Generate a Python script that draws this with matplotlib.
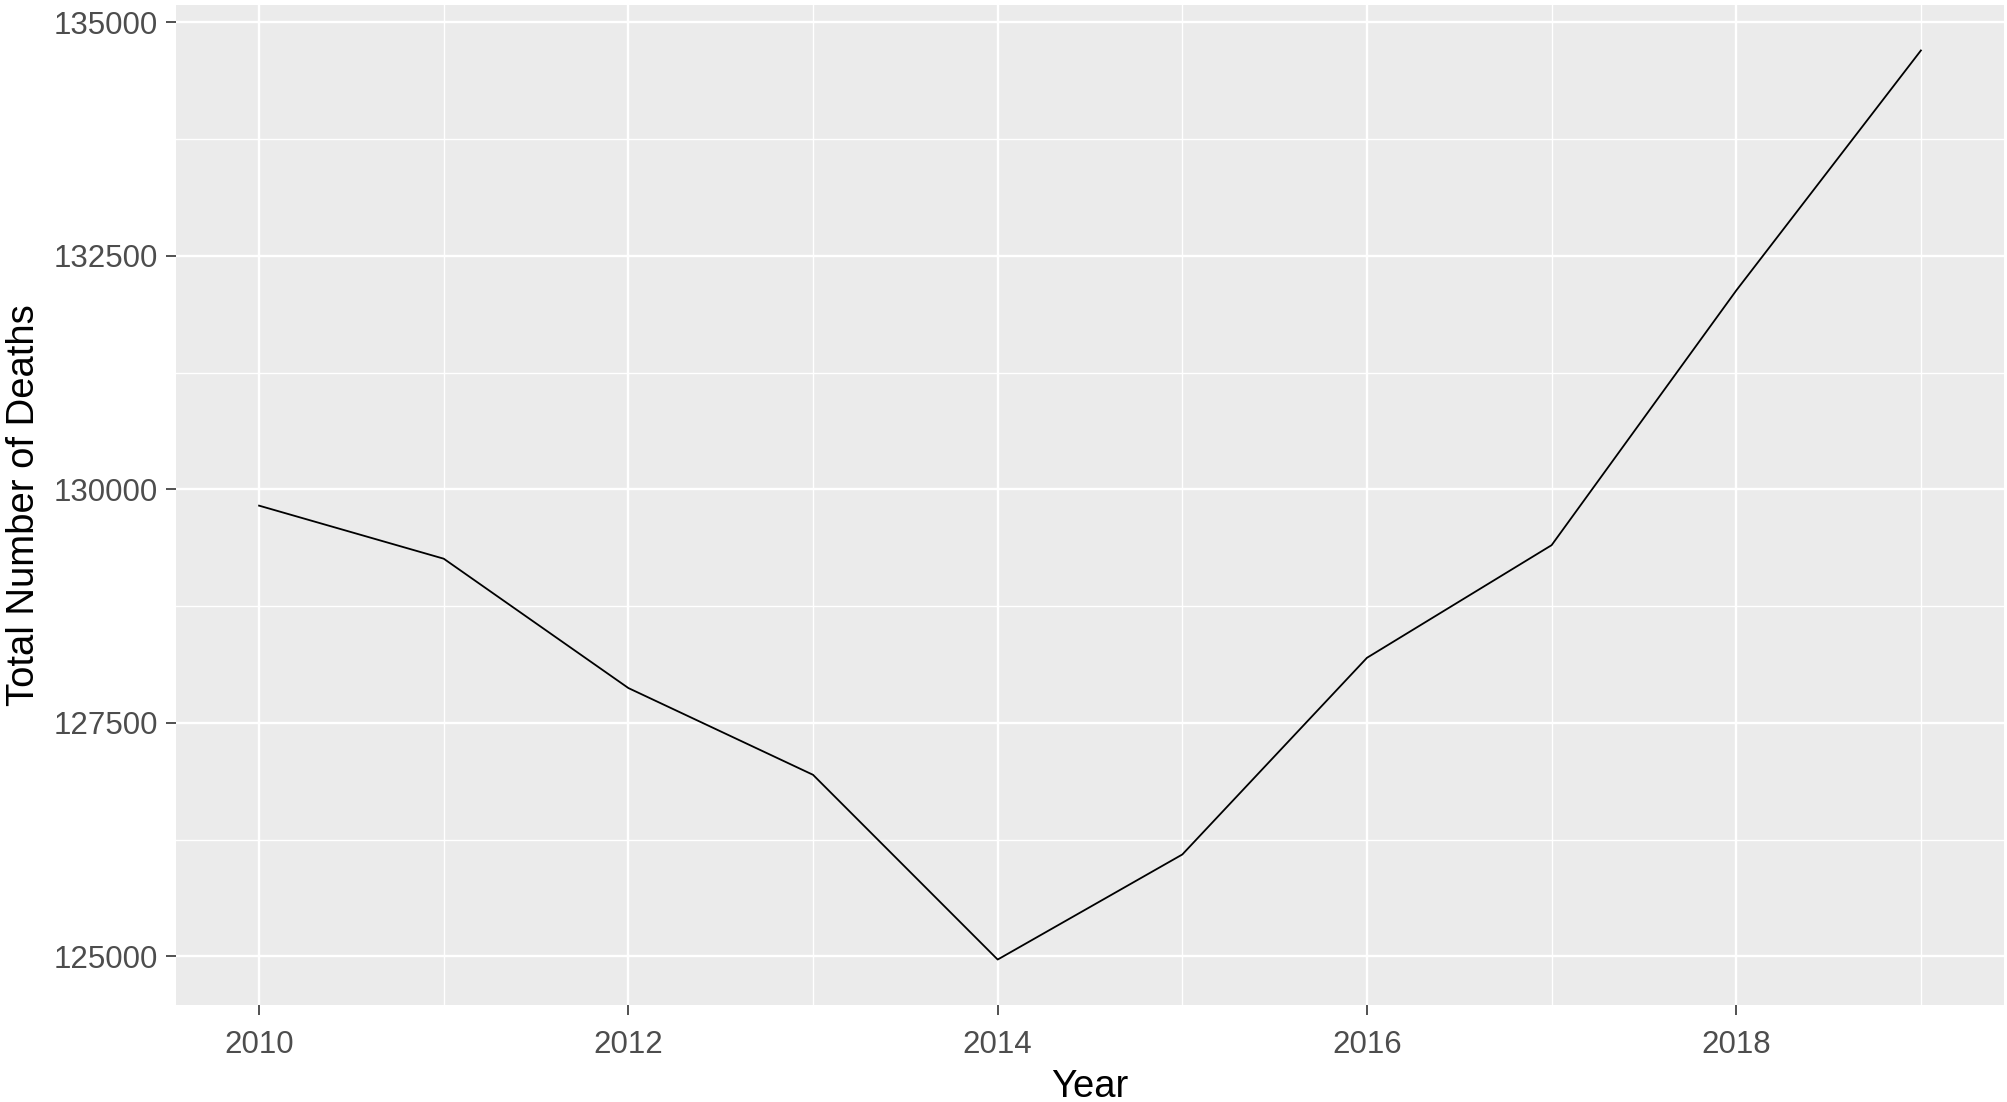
import matplotlib.pyplot as plt
from matplotlib.ticker import MultipleLocator, FixedLocator

# --- data ---
years = [2010, 2011, 2012, 2013, 2014, 2015, 2016, 2017, 2018, 2019]
deaths = [129825, 129257, 127872, 126943, 124965, 126090, 128196, 129402, 132129, 134699]

x_ticks = [2010, 2012, 2014, 2016, 2018]
y_ticks = [125000, 127500, 130000, 132500, 135000]

plt.rcParams['font.family'] = ['Liberation Sans', 'DejaVu Sans']

fig = plt.figure(figsize=(20.08, 11.02), dpi=100)
W, H = 2008, 1102
left, right, top, bottom = 176, 2004, 5, 1005
ax = fig.add_axes([left / W, 1 - bottom / H, (right - left) / W, (bottom - top) / H])

ax.set_facecolor('#EBEBEB')
for s in ax.spines.values():
    s.set_visible(False)

ax.plot(years, deaths, color='black', linewidth=1.3, zorder=3)

# ggplot-style 5% expansion
xr = max(years) - min(years)
yr = max(deaths) - min(deaths)
ax.set_xlim(min(years) - 0.05 * xr, max(years) + 0.05 * xr)
ax.set_ylim(min(deaths) - 0.05 * yr, max(deaths) + 0.05 * yr)

ax.xaxis.set_major_locator(FixedLocator(x_ticks))
ax.yaxis.set_major_locator(FixedLocator(y_ticks))
ax.xaxis.set_minor_locator(MultipleLocator(1))
ax.yaxis.set_minor_locator(MultipleLocator(1250))
ax.set_xticklabels([str(t) for t in x_ticks])
ax.set_yticklabels([str(t) for t in y_ticks])

ax.grid(which='major', color='white', linewidth=1.7, zorder=1)
ax.grid(which='minor', color='white', linewidth=1.0, zorder=1)
ax.set_axisbelow(True)

ax.tick_params(which='major', length=7.2, width=1.2, color='#333333',
               labelsize=22.5, labelcolor='#4D4D4D', pad=6)
ax.tick_params(axis='x', which='major', pad=10.5)
ax.tick_params(which='minor', length=0)

ax.set_xlabel('Year', fontsize=27.5, color='black', labelpad=6.8)
ax.set_ylabel('Total Number of Deaths', fontsize=27.5, color='black', labelpad=8)

fig.savefig('out.png', dpi=100, facecolor='white')
